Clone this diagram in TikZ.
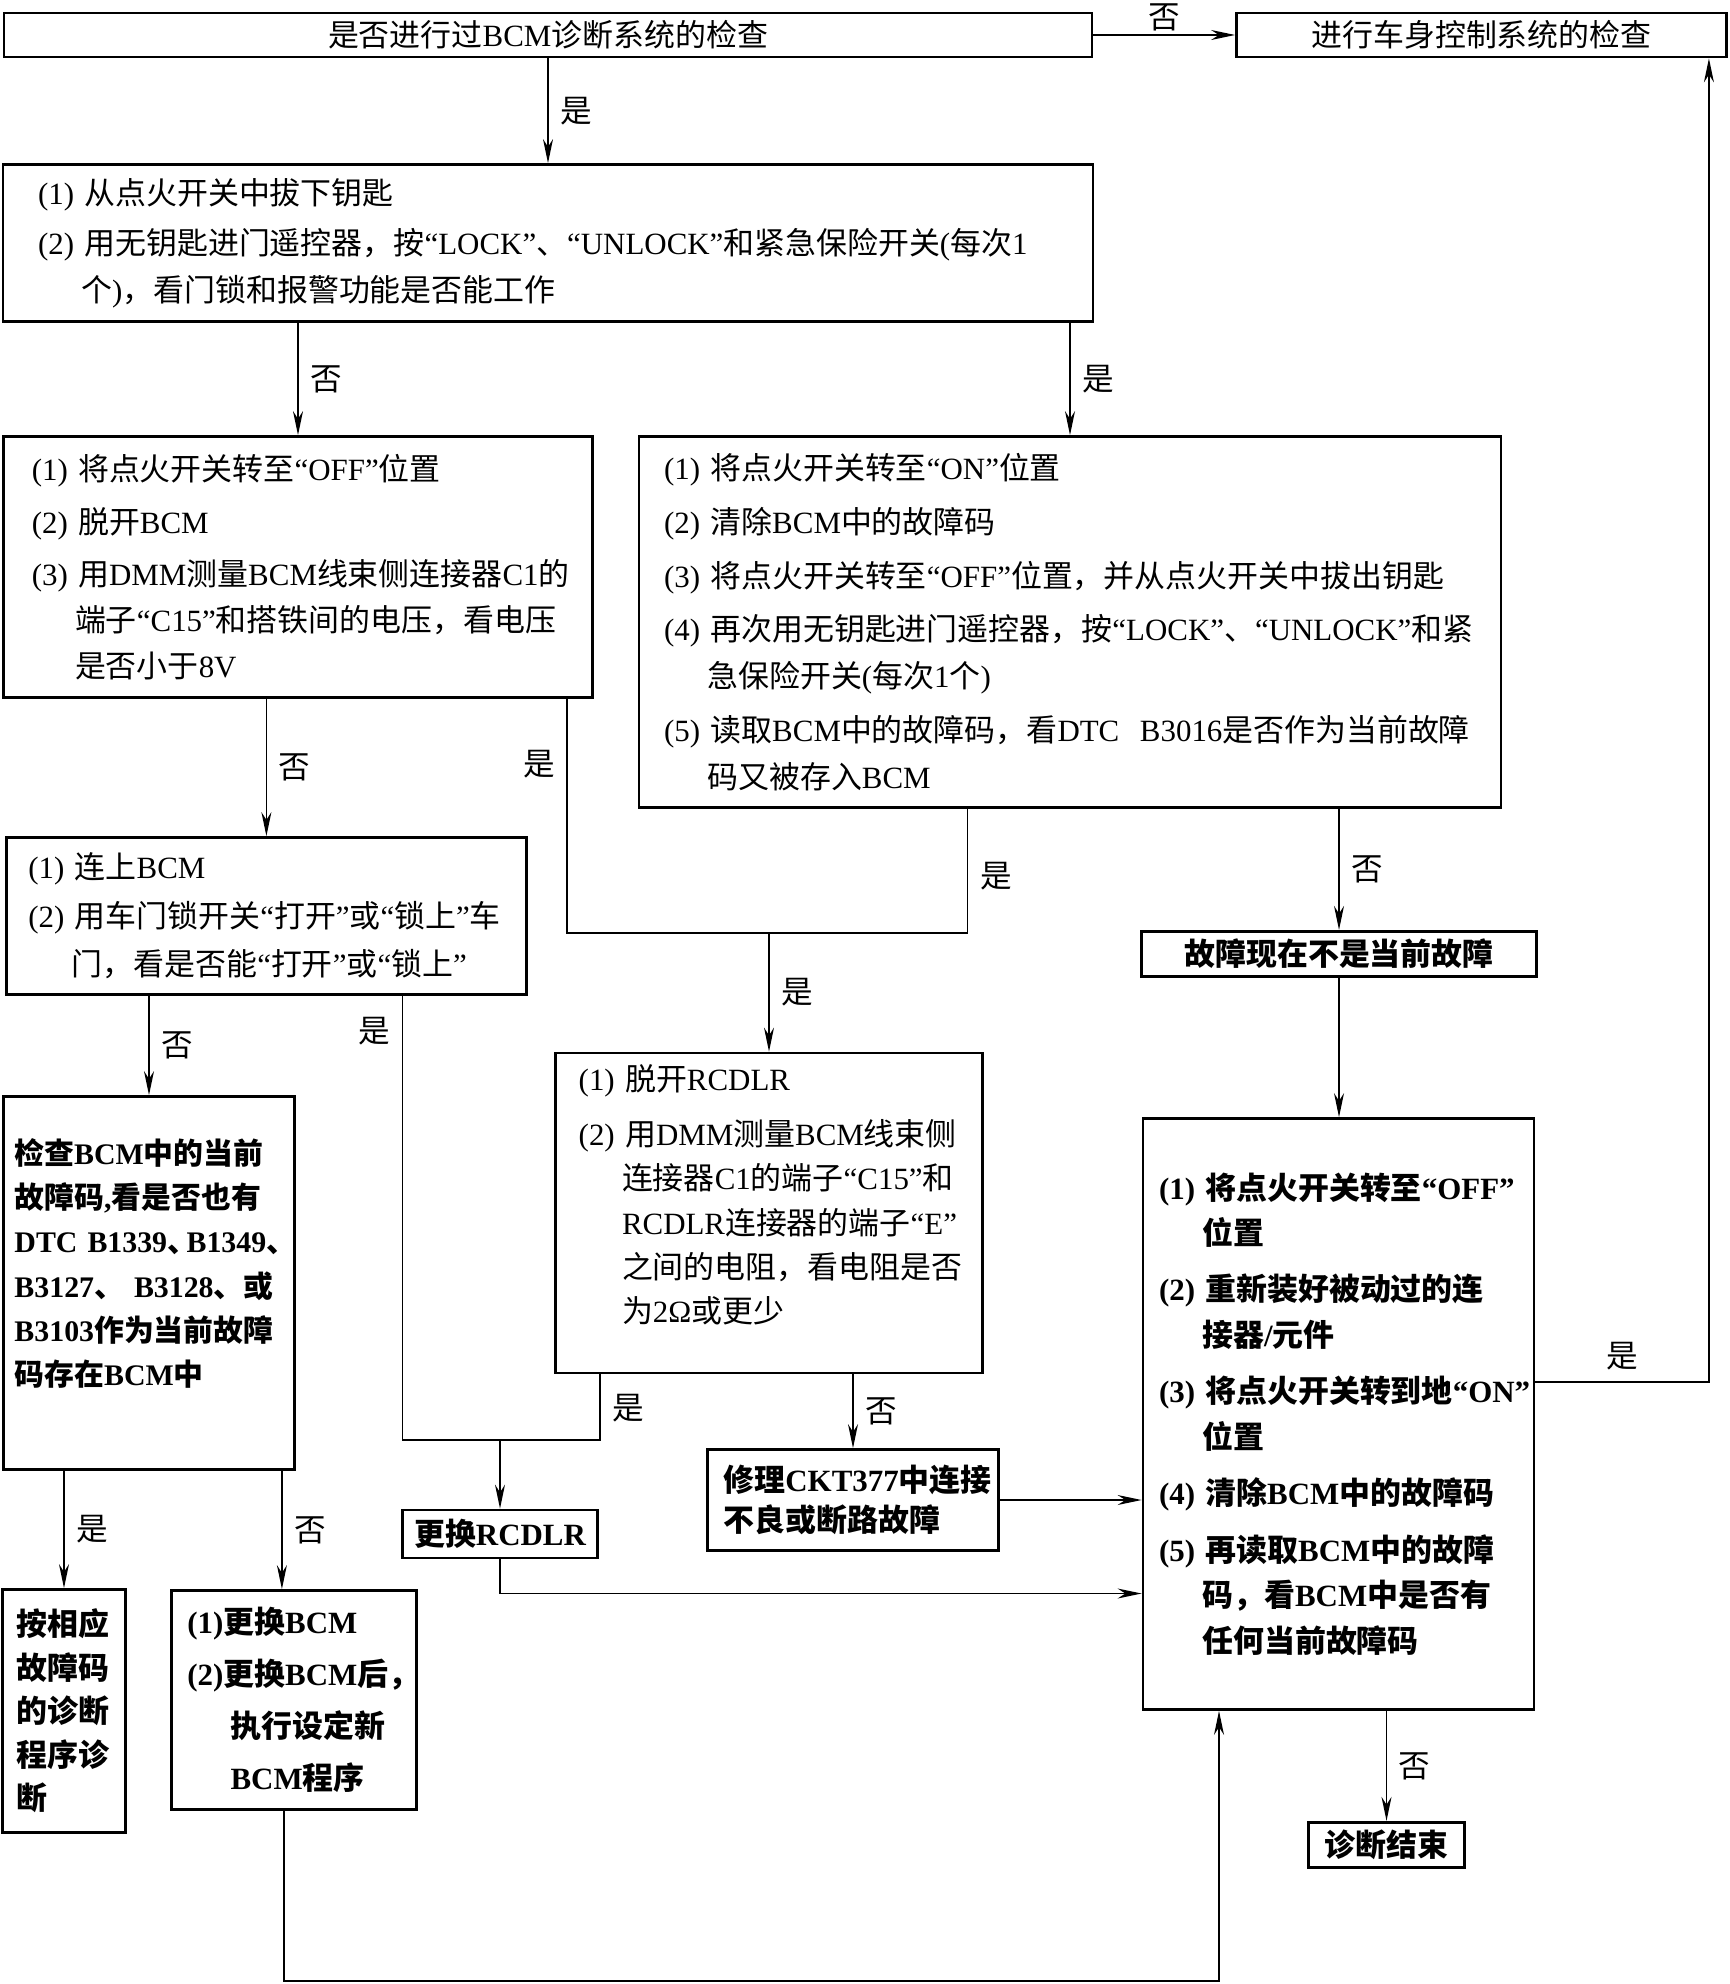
\documentclass[tikz,border=0pt]{standalone}
\usepackage{fontspec}
\setmainfont{Liberation Serif}
\newfontfamily\cjk{Noto Sans CJK SC}
\usetikzlibrary{arrows.meta, positioning}

% Chinese characters switch to the CJK font by themselves
\newXeTeXintercharclass\zhclass
\newcount\zhcode
\newcommand{\zhrange}[2]{%
  \zhcode=#1\relax
  \loop
    \XeTeXcharclass\zhcode=\zhclass
    \advance\zhcode by 1
  \ifnum\zhcode<#2\relax\repeat}
\zhrange{"3000}{"3040}
\zhrange{"4E00}{"A000}
\zhrange{"FF00}{"FF60}
\XeTeXcharclass"201C=0
\XeTeXcharclass"201D=0
\XeTeXcharclass`(=0
\XeTeXcharclass`)=0
\XeTeXinterchartoks 0 \zhclass={\cjk}
\XeTeXinterchartoks 4095 \zhclass={\cjk}
\XeTeXinterchartoks \zhclass 0={\rmfamily}
\XeTeXinterchartoks \zhclass 4095={\rmfamily}
\XeTeXinterchartokenstate=1

\newcommand{\contline}{\hspace*{1.4em}}

\begin{document}
\begin{tikzpicture}[
        >={Stealth[length=2.4mm, width=1mm]},
        box/.style={draw, line width=0.8pt, inner ysep=0pt},
        title-box/.style={box, align=center, font=\fontsize{8.8}{10}\selectfont},
        step-box/.style={box, align=left},
        connection/.style={->, line width=0.4pt},
        wire/.style={line width=0.4pt},
        answer/.style={font=\fontsize{9}{10}\selectfont},
    ]
    \useasboundingbox (0,0) rectangle (17.29,-19.84);

    % Top row
    \node[title-box, minimum width=10.88cm, minimum height=0.44cm] (check) at (5.48,-0.35) {是否进行过BCM诊断系统的检查};
    \node[title-box, minimum width=4.90cm, minimum height=0.44cm] (body) at (14.815,-0.35) {进行车身控制系统的检查};

    % Remote key test
    \node[step-box, text width=10.2cm, inner xsep=0.35cm, minimum height=1.57cm,
          font=\fontsize{8.8}{13.3}\selectfont] (remote) at (5.48,-2.43)
        {(1)~从点火开关中拔下钥匙\\[1pt]
         (2)~用无钥匙进门遥控器，按“LOCK”、“UNLOCK”和紧急保险开关(每次1\\
         \contline 个)，看门锁和报警功能是否能工作};

    % Voltage test and DTC B3016 test
    \node[step-box, text width=5.325cm, inner xsep=0.28cm, minimum height=2.61cm,
          font=\fontsize{8.8}{13}\selectfont] (off) at (2.98,-5.67)
        {(1)~将点火开关转至“OFF”位置\\[2pt]
         (2)~脱开BCM\\[2pt]
         (3)~用DMM测量BCM线束侧连接器C1的\\
         \contline 端子“C15”和搭铁间的电压，看电压\\
         \contline 是否小于8V};
    \node[step-box, text width=8.12cm, inner xsep=0.25cm, minimum height=3.71cm,
          font=\fontsize{8.8}{13.3}\selectfont] (on) at (10.70,-6.22)
        {(1)~将点火开关转至“ON”位置\\[2pt]
         (2)~清除BCM中的故障码\\[2pt]
         (3)~将点火开关转至“OFF”位置，并从点火开关中拔出钥匙\\[2pt]
         (4)~再次用无钥匙进门遥控器，按“LOCK”、“UNLOCK”和紧\\
         \contline 急保险开关(每次1个)\\[2pt]
         (5)~读取BCM中的故障码，看DTC~~B3016是否作为当前故障\\
         \contline 码又被存入BCM};

    % Door lock switch and RCDLR resistance
    \node[step-box, text width=4.76cm, inner xsep=0.22cm, minimum height=1.57cm,
          font=\fontsize{8.8}{13.8}\selectfont] (bcm) at (2.664,-9.16)
        {(1)~连上BCM\\
         (2)~用车门锁开关“打开”或“锁上”车\\
         \contline 门，看是否能“打开”或“锁上”};
    \node[step-box, text width=3.806cm, inner xsep=0.23cm, minimum height=3.20cm,
          font=\fontsize{8.8}{12.6}\selectfont] (rcdlr) at (7.69,-12.13)
        {(1)~脱开RCDLR\\[3pt]
         (2)~用DMM测量BCM线束侧\\
         \contline 连接器C1的端子“C15”和\\
         \contline RCDLR连接器的端子“E”\\
         \contline 之间的电阻，看电阻是否\\
         \contline 为2Ω或更少\rule[-11pt]{0pt}{11pt}};
    \node[step-box, text width=2.69cm, inner xsep=0.11cm, minimum height=3.73cm,
          font=\fontsize{8.5}{12.6}\selectfont\bfseries] (dtc) at (1.49,-12.83)
        {检查BCM中的当前\\
         故障码,看是否也有\\
         DTC~B1339、\kern-0.35em B1349、\\
         B3127、~B3128、或\\
         B3103作为当前故障\\
         码存在BCM中\rule[-12pt]{0pt}{12pt}};

    % Repairs
    \node[title-box, minimum width=1.85cm, minimum height=0.48cm,
          font=\fontsize{8.8}{10}\selectfont\bfseries] (swap) at (5.0,-15.34) {更换RCDLR};
    \node[step-box, text width=2.59cm, inner xsep=0.16cm, minimum height=1.01cm,
          font=\fontsize{8.8}{11.5}\selectfont\bfseries] (repair) at (8.53,-15.0)
        {修理CKT377中连接\\
         不良或断路故障};
    \node[step-box, text width=0.95cm, inner xsep=0.14cm, minimum height=2.43cm,
          font=\fontsize{8.8}{12.4}\selectfont\bfseries] (manual) at (0.64,-17.11)
        {按相应\\故障码\\的诊断\\程序诊\\断};
    \node[step-box, text width=2.135cm, inner xsep=0.16cm, minimum height=2.19cm,
          font=\fontsize{8.8}{14.8}\selectfont\bfseries] (newbcm) at (2.94,-17.0)
        {(1)更换BCM\\
         (2)更换BCM后，\\
         \contline 执行设定新\\
         \contline BCM程序};

    % Final check
    \node[title-box, minimum width=3.95cm, minimum height=0.455cm,
          font=\fontsize{8.8}{10}\selectfont\bfseries] (gone) at (13.39,-9.54) {故障现在不是当前故障};
    \node[step-box, text width=3.59cm, inner xsep=0.16cm, minimum height=5.91cm,
          font=\fontsize{8.8}{13}\selectfont\bfseries] (final) at (13.385,-14.14)
        {(1)~将点火开关转至“OFF”\\
         \contline 位置\\[3pt]
         (2)~重新装好被动过的连\\
         \contline 接器/元件\\[3pt]
         (3)~将点火开关转到地“ON”\\
         \contline 位置\\[3pt]
         (4)~清除BCM中的故障码\\[3pt]
         (5)~再读取BCM中的故障\\
         \contline 码，看BCM中是否有\\
         \contline 任何当前故障码};
    \node[title-box, minimum width=1.56cm, minimum height=0.455cm,
          font=\fontsize{8.8}{10}\selectfont\bfseries] (done) at (13.865,-18.45) {诊断结束};

    % Junctions
    \coordinate (jDE) at (7.69,-9.33);
    \coordinate (jFG) at (5.0,-14.40);
    \coordinate (hno) at ([xshift=-0.14cm]dtc.south east);
    \coordinate (low) at (12.19,-19.81);

    % Connections
    \draw[connection] (check) -- node[answer, above, inner sep=1pt] {否} (body);
    \draw[connection] (check) -- node[answer, right] {是} (remote);
    \draw[connection] (remote.south -| off.north) -- node[answer, right] {否} (off);
    \draw[connection] (remote.south -| on.north) -- node[answer, right] {是} (on);
    \draw[connection] (off.south -| bcm.north) -- node[answer, right] {否} (bcm);
    \draw[wire] ([xshift=-0.265cm]off.south east) |- node[answer, left, pos=0.14] {是} (jDE);
    \draw[wire] ([xshift=3.30cm]on.south west) |- node[answer, right, pos=0.27] {是} (jDE);
    \draw[connection] (jDE) -- node[answer, right] {是} (rcdlr);
    \draw[connection] (on.south -| gone.north) -- node[answer, right] {否} (gone);
    \draw[connection] (gone) -- (gone |- final.north);
    \draw[connection] (bcm.south -| dtc.north) -- node[answer, right] {否} (dtc);
    \draw[wire] ([xshift=-1.253cm]bcm.south east) |- node[answer, left, pos=0.04] {是} (jFG);
    \draw[wire] ([xshift=0.456cm]rcdlr.south west) |- node[answer, right, pos=0.26] {是} (jFG);
    \draw[connection] (jFG) -- (swap);
    \draw[connection] (rcdlr.south -| repair.north) -- node[answer, right] {否} (repair);
    \draw[connection] (repair) -- (repair -| final.west);
    \draw[connection] (swap) |- ([yshift=-1.795cm]final.west);
    \draw[connection] (dtc.south -| manual.north) -- node[answer, right] {是} (manual);
    \draw[connection] (hno) -- node[answer, right] {否} (hno |- newbcm.north);
    \draw[connection] ([xshift=-0.1cm]newbcm.south) |- (low) -- (low |- final.south);
    \draw[connection] ([yshift=0.32cm]final.east) -| node[answer, above, pos=0.25] {是} ([xshift=-0.19cm]body.south east);
    \draw[connection] (final.south -| done.north) -- node[answer, right] {否} (done);
\end{tikzpicture}
\end{document}
